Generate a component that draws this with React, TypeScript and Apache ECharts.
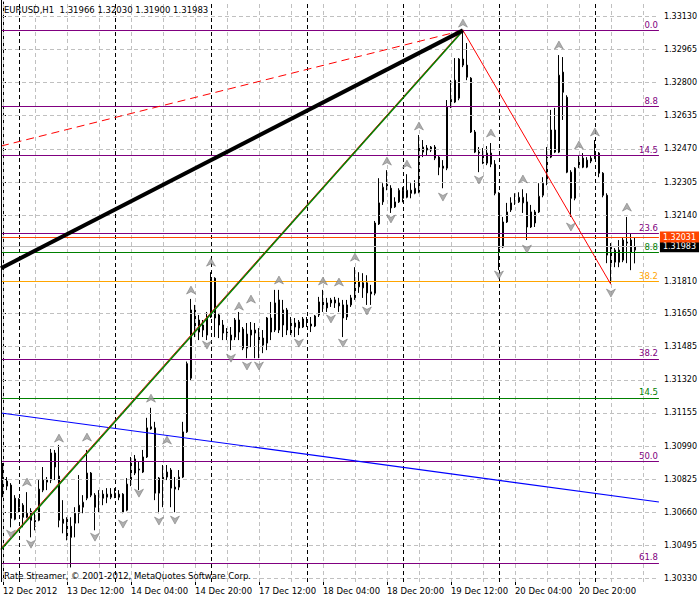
import React, { useEffect, useRef } from "react";
import * as echarts from "echarts";

// ---- candle data (EURUSD H1), index 0 = 12 Dec 2012 20:00 ----
const opens = [
  1.30871,1.30816,1.30796,1.30626,1.30726,1.30696,1.30636,1.30666,1.30591,1.30621,
  1.30771,1.30821,1.30821,1.30956,1.30841,1.30626,1.30626,1.30591,1.30606,1.30656,
  1.30686,1.30731,1.30856,1.30746,1.30736,1.30751,1.30736,1.30751,1.30756,1.30751,
  1.30751,1.30671,1.30801,1.30926,1.30876,1.30861,1.30936,1.31086,1.31081,1.30756,
  1.30826,1.30836,1.30871,1.30786,1.30786,1.30836,1.31061,1.31328,1.31668,1.31618,
  1.31568,1.31543,1.31633,1.31826,1.31643,1.31593,1.31558,1.31543,1.31533,1.31618,
  1.31573,1.31478,1.31543,1.31568,1.31553,1.31528,1.31503,1.31628,1.31568,1.31718,
  1.31668,1.31568,1.31608,1.31603,1.31608,1.31583,1.31618,1.31588,1.31588,1.31643,
  1.31708,1.31703,1.31703,1.31718,1.31703,1.31693,1.31633,1.31693,1.31728,1.31808,
  1.31803,1.31803,1.31758,1.31751,1.32096,1.32206,1.32294,1.32274,1.32181,1.32206,
  1.32264,1.32229,1.32264,1.32249,1.32254,1.32454,1.32474,1.32464,1.32479,1.32429,
  1.32384,1.32374,1.32678,1.32703,1.32722,1.32917,1.32887,1.32822,1.32554,1.32454,
  1.32449,1.32399,1.32449,1.32394,1.32249,1.31981,1.32106,1.32166,1.32201,1.32206,
  1.32201,1.32206,1.32081,1.32101,1.32156,1.32239,1.32299,1.32429,1.32564,1.32454,
  1.32852,1.32727,1.32354,1.32224,1.32379,1.32424,1.32379,1.32409,1.32424,1.32449,
  1.32349,1.32239,1.31981,1.31906,1.31966,1.31916,1.32006,1.32016,1.31966,
];
const highs = [
  1.30906,1.30836,1.30806,1.30746,1.30731,1.30706,1.30761,1.30681,1.30656,1.30821,
  1.30886,1.30836,1.30976,1.30971,1.30996,1.30721,1.30636,1.30636,1.30686,1.30846,
  1.30746,1.30971,1.30861,1.30756,1.30771,1.30771,1.30781,1.30781,1.30781,1.30771,
  1.30756,1.30831,1.30936,1.30946,1.30911,1.30971,1.31131,1.31181,1.31111,1.30836,
  1.30896,1.30896,1.30881,1.30836,1.30871,1.31111,1.31411,1.31723,1.31693,1.31643,
  1.31618,1.31658,1.31856,1.31831,1.31653,1.31618,1.31578,1.31583,1.31628,1.31658,
  1.31583,1.31603,1.31608,1.31603,1.31578,1.31568,1.31633,1.31708,1.31768,1.31768,
  1.31718,1.31678,1.31633,1.31628,1.31618,1.31633,1.31633,1.31633,1.31643,1.31733,
  1.31768,1.31728,1.31728,1.31733,1.31728,1.31718,1.31718,1.31743,1.31881,1.31856,
  1.31851,1.31841,1.31793,1.32111,1.32324,1.32299,1.32364,1.32289,1.32229,1.32274,
  1.32279,1.32344,1.32299,1.32314,1.32539,1.32514,1.32489,1.32484,1.32489,1.32439,
  1.32414,1.32713,1.32812,1.32922,1.32922,1.33060,1.32997,1.32827,1.32564,1.32479,
  1.32474,1.32484,1.32499,1.32414,1.32254,1.32131,1.32201,1.32229,1.32249,1.32254,
  1.32269,1.32249,1.32191,1.32166,1.32299,1.32329,1.32479,1.32664,1.32674,1.32937,
  1.32927,1.32737,1.32364,1.32379,1.32439,1.32449,1.32429,1.32439,1.32514,1.32454,
  1.32354,1.32249,1.32001,1.31976,1.32016,1.32031,1.32131,1.32051,1.32030,
];
const lows = [
  1.30736,1.30771,1.30586,1.30621,1.30661,1.30586,1.30631,1.30536,1.30571,1.30616,
  1.30761,1.30771,1.30806,1.30821,1.30586,1.30556,1.30521,1.30386,1.30536,1.30606,
  1.30656,1.30721,1.30736,1.30571,1.30661,1.30696,1.30706,1.30726,1.30731,1.30721,
  1.30656,1.30666,1.30791,1.30846,1.30771,1.30856,1.30931,1.31071,1.30721,1.30656,
  1.30686,1.30821,1.30686,1.30661,1.30771,1.30831,1.31056,1.31318,1.31533,1.31518,
  1.31533,1.31518,1.31628,1.31533,1.31528,1.31518,1.31518,1.31468,1.31518,1.31518,
  1.31468,1.31428,1.31483,1.31428,1.31428,1.31453,1.31468,1.31518,1.31558,1.31553,
  1.31533,1.31543,1.31543,1.31533,1.31543,1.31578,1.31583,1.31558,1.31583,1.31633,
  1.31658,1.31658,1.31683,1.31678,1.31658,1.31533,1.31618,1.31683,1.31718,1.31753,
  1.31728,1.31693,1.31693,1.31741,1.32091,1.32191,1.32264,1.32151,1.32176,1.32201,
  1.32204,1.32224,1.32224,1.32244,1.32249,1.32429,1.32439,1.32454,1.32414,1.32339,
  1.32274,1.32364,1.32673,1.32698,1.32712,1.32877,1.32812,1.32549,1.32449,1.32354,
  1.32394,1.32389,1.32379,1.32239,1.31866,1.31976,1.32101,1.32156,1.32191,1.32201,
  1.32151,1.32016,1.32076,1.32081,1.32151,1.32229,1.32289,1.32424,1.32449,1.32449,
  1.32614,1.32349,1.32131,1.32214,1.32374,1.32374,1.32374,1.32399,1.32419,1.32329,
  1.32229,1.31901,1.31801,1.31881,1.31881,1.31906,1.31901,1.31866,1.31900,
];
const closes = [
  1.30811,1.30791,1.30631,1.30731,1.30686,1.30636,1.30656,1.30621,1.30621,1.30776,
  1.30821,1.30811,1.30956,1.30886,1.30621,1.30606,1.30536,1.30536,1.30656,1.30696,
  1.30711,1.30856,1.30746,1.30686,1.30751,1.30731,1.30751,1.30736,1.30741,1.30736,
  1.30661,1.30801,1.30926,1.30856,1.30871,1.30936,1.31081,1.31076,1.30756,1.30831,
  1.30836,1.30861,1.30781,1.30776,1.30836,1.31061,1.31401,1.31668,1.31558,1.31558,
  1.31593,1.31633,1.31826,1.31628,1.31593,1.31553,1.31543,1.31518,1.31618,1.31558,
  1.31478,1.31548,1.31568,1.31553,1.31518,1.31493,1.31628,1.31558,1.31703,1.31568,
  1.31593,1.31668,1.31553,1.31583,1.31578,1.31623,1.31608,1.31598,1.31638,1.31708,
  1.31683,1.31678,1.31718,1.31703,1.31688,1.31628,1.31693,1.31728,1.31808,1.31783,
  1.31778,1.31753,1.31748,1.32101,1.32201,1.32279,1.32279,1.32176,1.32206,1.32264,
  1.32224,1.32264,1.32249,1.32274,1.32479,1.32479,1.32464,1.32479,1.32424,1.32379,
  1.32374,1.32678,1.32717,1.32812,1.32917,1.32887,1.32827,1.32554,1.32454,1.32449,
  1.32399,1.32449,1.32394,1.32249,1.31976,1.32106,1.32156,1.32201,1.32206,1.32229,
  1.32229,1.32081,1.32156,1.32156,1.32234,1.32299,1.32429,1.32564,1.32454,1.32837,
  1.32752,1.32354,1.32224,1.32374,1.32424,1.32379,1.32414,1.32424,1.32449,1.32349,
  1.32239,1.31941,1.31901,1.31966,1.31906,1.32016,1.32001,1.31956,1.31983,
];

// ---- axes ----
const xMin = -0.5;
const xMax = 164;
const xLabelIdx = [0, 16, 32, 48, 64, 80, 96, 112, 128, 144];
const xLabels = [
  "12 Dec 2012", "13 Dec 12:00", "14 Dec 04:00", "14 Dec 20:00", "17 Dec 12:00",
  "18 Dec 04:00", "18 Dec 20:00", "19 Dec 12:00", "20 Dec 04:00", "20 Dec 20:00",
];
const xGridIdx = [0, 8, 16, 24, 32, 40, 48, 56, 64, 72, 80, 88, 96, 104, 112, 120, 128, 136, 144, 152, 160];
const daySeparatorIdx = [4, 28, 52, 76, 100, 124, 148];
const yMin = 1.303136;
const yMax = 1.332012;
const yTicks = [
  1.3313, 1.32965, 1.328, 1.32635, 1.3247, 1.32305, 1.3214, 1.3181, 1.3165,
  1.31485, 1.3132, 1.31155, 1.3099, 1.30825, 1.3066, 1.30495, 1.3033,
];

// ---- fibonacci / level lines ----
const fibPrices = [1.3306, 1.32683, 1.32438, 1.32048, 1.31424, 1.30915, 1.30409, 1.31953, 1.31812, 1.3123];
const fibLabels = ["0.0", "8.8", "14.5", "23.6", "38.2", "50.0", "61.8", "8.8", "38.2", "14.5"];
const fibColors = ["#800080", "#800080", "#800080", "#800080", "#800080", "#800080", "#800080", "#008000", "#FFA500", "#008000"];
const bidPrice = 1.31983;
const askPrice = 1.32031;

// ---- trend lines [index, price] ----
const redDashedLine = [[-0.5, 1.32484], [115, 1.3306]];
const blackThickLine = [[-0.5, 1.31876], [115, 1.3306]];
const redTrendLine = [[-0.5, 1.30481], [115, 1.33063]];
const greenTrendLine = [[-0.5, 1.30474], [115, 1.33058]];
const zigzagLine = [[115, 1.3306], [152, 1.31795]];
const blueLine = [[-0.5, 1.31155], [164, 1.30712]];

// ---- fractals ----
const fractalUpIdx = [6, 14, 21, 37, 41, 47, 52, 59, 62, 69, 80, 84, 88, 96, 101, 104, 115, 122, 130, 139, 144, 148, 156];
const fractalUpPrice = [
  1.30811, 1.3103, 1.31035, 1.31229, 1.3102, 1.31767, 1.31906, 1.31687, 1.31722, 1.31817, 1.31812, 1.31807,
  1.31931, 1.32409, 1.32394, 1.32584, 1.33096, 1.32549, 1.3232, 1.32987, 1.32489, 1.32554, 1.3218,
];
const fractalDownIdx = [2, 7, 23, 30, 34, 39, 43, 51, 57, 61, 64, 74, 82, 85, 91, 97, 110, 119, 124, 131, 142, 152];
const fractalDownPrice = [
  1.30552, 1.30502, 1.30537, 1.30602, 1.30756, 1.30617, 1.30622, 1.31493, 1.31428, 1.31389, 1.31389,
  1.31503, 1.31623, 1.31503, 1.31663, 1.32121, 1.3223, 1.32315, 1.31842, 1.31971, 1.32081, 1.31752,
];

const FONT = "DejaVu Sans";
const UP_ARROW = "path://M5,0 L10,10 L5,7 L0,10 Z";
const DOWN_ARROW = "path://M0,0 L5,3 L10,0 L5,10 Z";

export default function App() {
  const ref = useRef<HTMLDivElement>(null);
  useEffect(() => {
    if (!ref.current) return;
    const chart = echarts.init(ref.current, null, { renderer: "svg" });
    const candleData = opens.map((o, i) => [i, o, closes[i], lows[i], highs[i]]);
    const last = opens.length - 1;
    const title = `EURUSD,H1  ${opens[last].toFixed(5)} ${highs[last].toFixed(5)} ${lows[last].toFixed(5)} ${closes[last].toFixed(5)}`;

    const noLabel = { show: false };
    const gridLines: any[] = [
      ...yTicks.map((v) => ({ yAxis: v, lineStyle: { color: "#c0c0c0", type: [4, 3], width: 1 }, label: noLabel })),
      ...xGridIdx.map((v) => ({ xAxis: v, lineStyle: { color: "#c0c0c0", type: [4, 3], width: 1 }, label: noLabel })),
      ...daySeparatorIdx.map((v) => ({ xAxis: v, lineStyle: { color: "#000", type: [4, 3], width: 1 }, label: noLabel })),
    ];
    const levelLines: any[] = [
      ...fibPrices.map((p, i) => ({
        yAxis: p,
        lineStyle: { color: fibColors[i], type: "solid", width: 1.2 },
        label: {
          show: true, position: "insideEndTop", formatter: fibLabels[i], color: fibColors[i],
          fontSize: 8.5, fontFamily: FONT, distance: 1,
        },
      })),
      {
        yAxis: bidPrice,
        lineStyle: { color: "#c0c0c0", type: "solid", width: 1 },
        label: {
          show: true, position: "end", formatter: bidPrice.toFixed(5), color: "#fff", backgroundColor: "#000",
          padding: [2, 3, 1, 3], fontSize: 8, fontFamily: FONT, distance: 1,
        },
      },
      {
        yAxis: askPrice,
        lineStyle: { color: "#FF4500", type: "solid", width: 1.2 },
        label: {
          show: true, position: "end", formatter: askPrice.toFixed(5), color: "#fff", backgroundColor: "#FF4500",
          padding: [2, 3, 1, 3], fontSize: 8, fontFamily: FONT, distance: 1,
        },
      },
    ];
    const seg = (pts: number[][], color: string, width: number, type: any = "solid") => [
      { coord: pts[0], lineStyle: { color, width, type } },
      { coord: pts[1] },
    ];
    const trendLines: any[] = [
      seg(blueLine, "#0000FF", 1.2),
      seg(redDashedLine, "#FF0000", 1, [8, 5]),
      seg(redTrendLine, "#FF0000", 1),
      seg(greenTrendLine, "#008000", 1.5),
      seg(zigzagLine, "#FF0000", 1),
      seg(blackThickLine, "#000000", 4),
    ];

    const option: any = {
      animation: false,
      backgroundColor: "#fff",
      textStyle: { fontFamily: FONT },
      grid: { left: 1, right: 40, top: 2, bottom: 18, show: true, borderWidth: 0, backgroundColor: "#fff" },
      xAxis: {
        type: "value", min: xMin, max: xMax,
        axisLine: { show: false },
        axisTick: { show: true, customValues: xLabelIdx, length: 3, lineStyle: { color: "#000" } },
        axisLabel: {
          customValues: xLabelIdx,
          formatter: (v: number) => { const k = xLabelIdx.indexOf(Math.round(v)); return k >= 0 ? xLabels[k] : ""; },
          align: "left", margin: 4, fontSize: 8.5, color: "#000", fontFamily: FONT,
        },
        splitLine: { show: false },
      },
      yAxis: {
        type: "value", position: "right", min: yMin, max: yMax,
        axisLine: { show: true, lineStyle: { color: "#000", width: 1 } },
        axisTick: { show: true, customValues: yTicks, length: 3, lineStyle: { color: "#000" } },
        axisLabel: {
          customValues: yTicks, formatter: (v: number) => v.toFixed(5),
          fontSize: 8, color: "#000", margin: 5, fontFamily: FONT,
        },
        splitLine: { show: false },
      },
      graphic: [
        { type: "line", z: 100, shape: { x1: 1.5, y1: 0, x2: 1.5, y2: 582 }, style: { stroke: "#000", lineWidth: 1 } },
        { type: "text", left: 4, top: 5, z: 100, style: { text: title, fontSize: 8.5, fontFamily: FONT, fill: "#000" } },
        {
          type: "text", left: 4, top: 571, z: 100,
          style: { text: "Rate Streamer, © 2001-2012, MetaQuotes Software Corp.", fontSize: 8.5, fontFamily: FONT, fill: "#000" },
        },
      ],
      series: [
        {
          type: "line", data: [], z: 1, silent: true,
          markLine: { silent: true, precision: 6, symbol: ["none", "none"], animation: false, data: gridLines },
        },
        {
          type: "line", data: [], z: 2, silent: true,
          markLine: { silent: true, precision: 6, symbol: ["none", "none"], animation: false, data: levelLines },
        },
        {
          type: "candlestick", z: 3, data: candleData, encode: { x: 0, y: [1, 2, 3, 4] },
          barWidth: 2,
          itemStyle: { color: "#fff", color0: "#000", borderColor: "#000", borderColor0: "#000", borderWidth: 1 },
        },
        {
          type: "line", data: [], z: 4, silent: true,
          markLine: { silent: true, precision: 6, symbol: ["none", "none"], animation: false, label: noLabel, data: trendLines },
        },
        {
          type: "scatter", z: 5, symbol: UP_ARROW, symbolSize: [9, 8],
          itemStyle: { color: "#9a9a9a", borderColor: "#6e6e6e", borderWidth: 0.6 },
          data: fractalUpIdx.map((x, i) => [x, fractalUpPrice[i]]),
        },
        {
          type: "scatter", z: 5, symbol: DOWN_ARROW, symbolSize: [9, 8],
          itemStyle: { color: "#9a9a9a", borderColor: "#6e6e6e", borderWidth: 0.6 },
          data: fractalDownIdx.map((x, i) => [x, fractalDownPrice[i]]),
        },
      ],
    };
    chart.setOption(option);
    return () => chart.dispose();
  }, []);
  return <div ref={ref} style={{ position: "absolute", left: 0, top: 0, width: 700, height: 600 }} />;
}
